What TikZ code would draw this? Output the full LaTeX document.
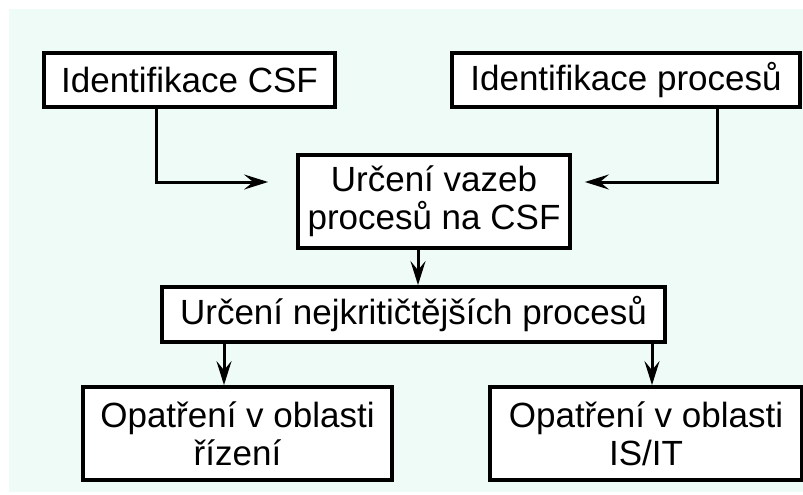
\documentclass[tikz,border=0pt]{standalone}
\usepackage{fontspec}
\setmainfont{Liberation Sans}
\usetikzlibrary{arrows.meta}
\definecolor{mintbg}{RGB}{238,251,246}
\tikzset{
    krok/.style={draw=black, line width=3.8pt, fill=white, align=center,
        inner sep=0pt, font=\fontsize{35}{38}\selectfont},
    sipka/.style={-{Stealth[length=24pt, width=15pt, inset=9pt]}, line width=3pt}
}

\begin{document}
\begin{tikzpicture}[x=1pt, y=-1pt]
% 1. 背景与边界
\useasboundingbox (0, 0) rectangle (803, 495);
\fill[mintbg] (9, 9) rectangle (803, 492);

% 2. 放置各个方框
\node[krok, minimum width=291pt, minimum height=54pt] (csf) at (189.5, 80) {Identifikace CSF};
\node[krok, minimum width=348pt, minimum height=54pt] (proc) at (626, 80) {Identifikace procesů};
\node[krok, minimum width=272pt, minimum height=93pt] (vazby) at (434, 201.5) {Určení vazeb\\procesů na CSF};
\node[krok, minimum width=503pt, minimum height=55pt] (krit) at (413.5, 314.5) {Určení nejkritičtějších procesů};
\node[krok, minimum width=309pt, minimum height=93pt] (rizeni) at (237.5, 433.5) {Opatření v oblasti\\řízení};
\node[krok, minimum width=312pt, minimum height=93pt] (isit) at (646, 433.5) {Opatření v oblasti\\IS/IT};

% 3. 箭头的端点
\coordinate (vlevo) at ([xshift=-28pt, yshift=19.5pt]vazby.west);
\coordinate (vpravo) at ([xshift=13pt, yshift=19.5pt]vazby.east);
\coordinate (dolu) at ([xshift=-16pt]vazby.south);
\coordinate (dolu1) at ([xshift=-13.5pt]rizeni.north);
\coordinate (dolu2) at ([xshift=6pt]isit.north);

% 4. 连接箭头
\draw[sipka] ([xshift=-33.5pt]csf.south) |- (vlevo);
\draw[sipka] ([xshift=91pt]proc.south) |- (vpravo);
\draw[sipka] (dolu) -- (dolu |- krit.north);
\draw[sipka] (krit.south -| dolu1) -- (dolu1);
\draw[sipka] (krit.south -| dolu2) -- (dolu2);
\end{tikzpicture}
\end{document}
